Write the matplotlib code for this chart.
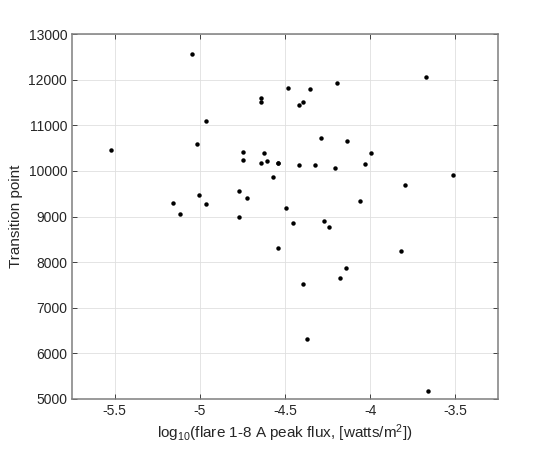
import matplotlib
matplotlib.use("Agg")
import matplotlib.pyplot as plt

plt.rcParams['font.family'] = ['Liberation Sans', 'DejaVu Sans']
plt.rcParams['mathtext.fontset'] = 'custom'
plt.rcParams['mathtext.rm'] = 'Liberation Sans'
plt.rcParams['mathtext.it'] = 'Liberation Sans:italic'

log_flux = [-5.048, -4.484, -4.640, -4.640, -4.962, -5.523, -5.015, -4.746, -4.746,
            -4.623, -4.640, -4.605, -4.541, -4.541, -4.570, -4.769, -4.722, -5.003,
            -5.155, -4.962, -5.114, -4.769, -4.494, -4.354, -4.196, -4.418, -4.395,
            -3.675, -4.289, -4.137, -3.997, -4.418, -4.325, -4.208, -4.032, -3.512,
            -3.798, -4.061, -4.541, -4.453, -4.272, -4.243, -3.822, -4.143, -4.178,
            -4.395, -4.371, -3.658]
transition = [12555, 11810, 11591, 11504, 11088, 10453, 10584, 10409, 10234,
              10387, 10168, 10212, 10182, 10165, 9861, 9555, 9401, 9467,
              9292, 9270, 9051, 8985, 9182, 11788, 11920, 11438, 11504,
              12051, 10715, 10650, 10387, 10124, 10124, 10058, 10146, 9905,
              9686, 9336, 8309, 8855, 8898, 8767, 8244, 7873, 7655,
              7524, 6324, 5167]

xticks = [-5.5, -5, -4.5, -4, -3.5]
xticklabels = ['-5.5', '-5', '-4.5', '-4', '-3.5']
yticks = [5000, 6000, 7000, 8000, 9000, 10000, 11000, 12000, 13000]

fig = plt.figure(figsize=(5.5, 4.5), dpi=100)
ax = fig.add_axes([72/550, 51/450, 426/550, 365/450])
ax.plot(log_flux, transition, 'o', color='black', markersize=3.2, markeredgewidth=0)

ax.set_xlim(-5.75, -3.25)
ax.set_ylim(5000, 13000)
ax.set_xticks(xticks)
ax.set_xticklabels(xticklabels)
ax.set_yticks(yticks)
ax.grid(True, color='#dfdfdf', linewidth=0.6)
ax.set_axisbelow(True)
for s in ax.spines.values():
    s.set_color('#7f7f7f')
    s.set_linewidth(1.1)
ax.tick_params(direction='in', length=3.5, width=0.6, color='#262626',
               labelsize=10, labelcolor='#262626', top=True, right=True)
ax.set_xlabel(r'log$_{10}$(flare 1-8 A peak flux, [watts/m$^2$])', fontsize=11,
              color='#262626', labelpad=3)
ax.set_ylabel('Transition point', fontsize=11, color='#262626')

fig.savefig('out.png', dpi=100)
